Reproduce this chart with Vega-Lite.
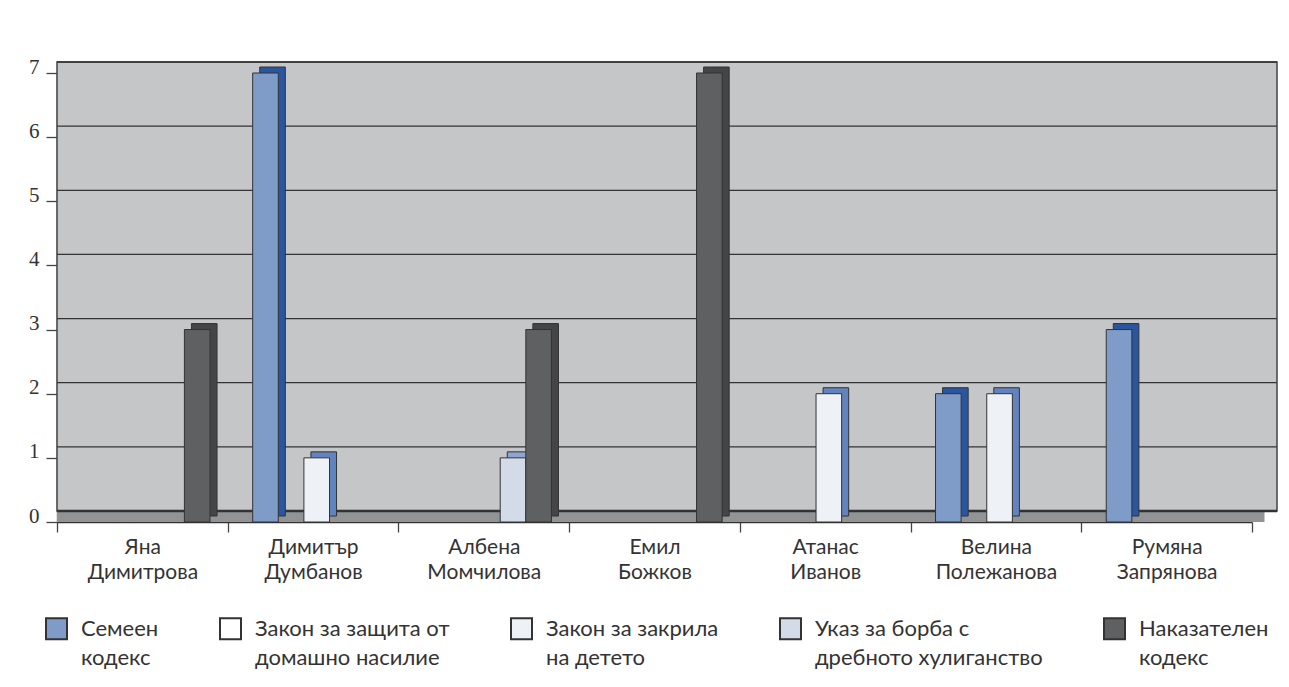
{
  "$schema": "https://vega.github.io/schema/vega-lite/v6.json",
  "autosize": {"type": "none"},
  "width": 1195,
  "height": 449,
  "padding": {"left": 57, "top": 73, "right": 37, "bottom": 165},
  "background": "#ffffff",
  "datasets": {
    "bars": [
      {"name": "Яна Димитрова", "series": "Наказателен кодекс", "value": 3},
      {"name": "Димитър Думбанов", "series": "Семеен кодекс", "value": 7},
      {"name": "Димитър Думбанов", "series": "Закон за закрила на детето", "value": 1},
      {"name": "Албена Момчилова", "series": "Указ за борба с дребното хулиганство", "value": 1},
      {"name": "Албена Момчилова", "series": "Наказателен кодекс", "value": 3},
      {"name": "Емил Божков", "series": "Наказателен кодекс", "value": 7},
      {"name": "Атанас Иванов", "series": "Закон за закрила на детето", "value": 2},
      {"name": "Велина Полежанова", "series": "Семеен кодекс", "value": 2},
      {"name": "Велина Полежанова", "series": "Закон за закрила на детето", "value": 2},
      {"name": "Румяна Запрянова", "series": "Семеен кодекс", "value": 3}
    ],
    "wall": [{"lo": 0, "hi": 7}],
    "grid": [{"v": 0}, {"v": 1}, {"v": 2}, {"v": 3}, {"v": 4}, {"v": 5}, {"v": 6}, {"v": 7}]
  },
  "layer": [
    {
      "data": {"name": "wall"},
      "mark": {"type": "rect", "color": "#cacbcd", "x2Offset": 25, "yOffset": -11},
      "encoding": {
        "y": {"field": "hi", "type": "quantitative", "scale": {"domain": [0, 7], "nice": false}, "title": null,
              "axis": {"values": [0, 1, 2, 3, 4, 5, 6, 7], "format": "d"}},
        "y2": {"field": "lo"}
      }
    },
    {
      "data": {"name": "wall"},
      "mark": {"type": "rect", "fill": "#c5c6c8", "stroke": "#444444", "strokeWidth": 1.5, "xOffset": 25, "x2Offset": 25, "yOffset": -11, "y2Offset": -11},
      "encoding": {
        "y": {"field": "hi", "type": "quantitative", "scale": {"domain": [0, 7], "nice": false}, "title": null,
              "axis": {"values": [0, 1, 2, 3, 4, 5, 6, 7], "format": "d"}},
        "y2": {"field": "lo"}
      }
    },
    {
      "data": {"name": "wall"},
      "mark": {"type": "rule", "color": "#929395", "strokeWidth": 11, "xOffset": 12.5, "x2Offset": 12.5, "yOffset": -5.5},
      "encoding": {
        "y": {"field": "lo", "type": "quantitative", "scale": {"domain": [0, 7], "nice": false}, "title": null,
              "axis": {"values": [0, 1, 2, 3, 4, 5, 6, 7], "format": "d"}}
      }
    },
    {
      "data": {"name": "grid"},
      "mark": {"type": "rule", "color": "#333333", "xOffset": 25, "x2Offset": 25, "yOffset": -11},
      "encoding": {
        "y": {"field": "v", "type": "quantitative", "scale": {"domain": [0, 7], "nice": false}, "title": null,
              "axis": {"values": [0, 1, 2, 3, 4, 5, 6, 7], "format": "d"}},
        "strokeWidth": {"condition": {"test": "datum.v == 0", "value": 2.5}, "value": 1.3}
      }
    },
    {
      "data": {"name": "bars"},
      "mark": {"type": "bar", "stroke": "#333333", "strokeWidth": 1, "yOffset": -6},
      "encoding": {
        "x": {"field": "name", "type": "nominal", "sort": null,
              "scale": {"domain": ["Яна Димитрова", "Димитър Думбанов", "Албена Момчилова", "Емил Божков", "Атанас Иванов", "Велина Полежанова", "Румяна Запрянова"], "paddingInner": 0, "paddingOuter": 0},
              "title": null},
        "xOffset": {"field": "series", "type": "nominal",
              "scale": {"domain": ["Семеен кодекс", "Закон за защита от домашно насилие", "Закон за закрила на детето", "Указ за борба с дребното хулиганство", "Наказателен кодекс"], "paddingInner": 0, "paddingOuter": 0.833, "align": 0.75}},
        "y": {"field": "value", "type": "quantitative", "scale": {"domain": [0, 7], "nice": false}, "title": null,
              "axis": {"values": [0, 1, 2, 3, 4, 5, 6, 7], "format": "d"}},
        "color": {"field": "series", "type": "nominal", "legend": null,
              "scale": {"domain": ["Семеен кодекс", "Закон за защита от домашно насилие", "Закон за закрила на детето", "Указ за борба с дребното хулиганство", "Наказателен кодекс"],
                        "range": ["#2a56a0", "#8aa0c8", "#6283bd", "#8ea5cf", "#454547"]}}
      }
    },
    {
      "data": {"name": "bars"},
      "mark": {"type": "bar", "stroke": "#333333", "strokeWidth": 1},
      "encoding": {
        "x": {"field": "name", "type": "nominal", "sort": null,
              "scale": {"domain": ["Яна Димитрова", "Димитър Думбанов", "Албена Момчилова", "Емил Божков", "Атанас Иванов", "Велина Полежанова", "Румяна Запрянова"], "paddingInner": 0, "paddingOuter": 0},
              "title": null},
        "xOffset": {"field": "series", "type": "nominal",
              "scale": {"domain": ["Семеен кодекс", "Закон за защита от домашно насилие", "Закон за закрила на детето", "Указ за борба с дребното хулиганство", "Наказателен кодекс"], "paddingInner": 0, "paddingOuter": 0.833, "align": 0.585}},
        "y": {"field": "value", "type": "quantitative", "scale": {"domain": [0, 7], "nice": false}, "title": null,
              "axis": {"values": [0, 1, 2, 3, 4, 5, 6, 7], "format": "d"}},
        "color": {"field": "series", "type": "nominal", "title": null,
              "scale": {"domain": ["Семеен кодекс", "Закон за защита от домашно насилие", "Закон за закрила на детето", "Указ за борба с дребното хулиганство", "Наказателен кодекс"],
                        "range": ["#7f9bc8", "#ffffff", "#eef1f6", "#d3dbe9", "#5f6062"]},
              "legend": {
                "orient": "none", "legendX": -12, "legendY": 544, "direction": "horizontal", "columns": 5,
                "symbolType": "square", "symbolSize": 441, "symbolStrokeWidth": 2, "symbolStrokeColor": "#333333", "symbolOpacity": 1,
                "labelFont": "Lato", "labelFontSize": 22, "labelColor": "#333333", "labelLimit": 300, "labelOffset": 13,
                "labelBaseline": "middle", "columnPadding": 57, "padding": 0,
                "labelExpr": "datum.label == 'Семеен кодекс' ? ['Семеен', 'кодекс'] : datum.label == 'Закон за защита от домашно насилие' ? ['Закон за защита от', 'домашно насилие'] : datum.label == 'Закон за закрила на детето' ? ['Закон за закрила', 'на детето'] : datum.label == 'Указ за борба с дребното хулиганство' ? ['Указ за борба с', 'дребното хулиганство'] : ['Наказателен', 'кодекс']"
              }}
      }
    }
  ],
  "resolve": {"scale": {"color": "independent", "xOffset": "independent"}},
  "config": {
    "view": {"stroke": null},
    "axisX": {
      "domainColor": "#333333", "domainWidth": 1.5, "tickColor": "#444444", "tickSize": 10, "tickWidth": 1.3,
      "tickBand": "extent", "labelAngle": 0, "labelFont": "Lato", "labelFontSize": 21, "labelColor": "#333333",
      "labelPadding": 4, "labelLineHeight": 25, "labelExpr": "split(datum.label, ' ')", "grid": false
    },
    "axisY": {
      "domainColor": "#444444", "domainWidth": 1.3, "tickColor": "#444444", "tickSize": 11, "tickWidth": 1.3,
      "labelFont": "Liberation Serif", "labelFontSize": 21, "labelColor": "#333333",
      "labelPadding": 7, "labelBaseline": "alphabetic", "grid": false
    },
    "style": {"guide-label": {"lineHeight": 29}}
  }
}
